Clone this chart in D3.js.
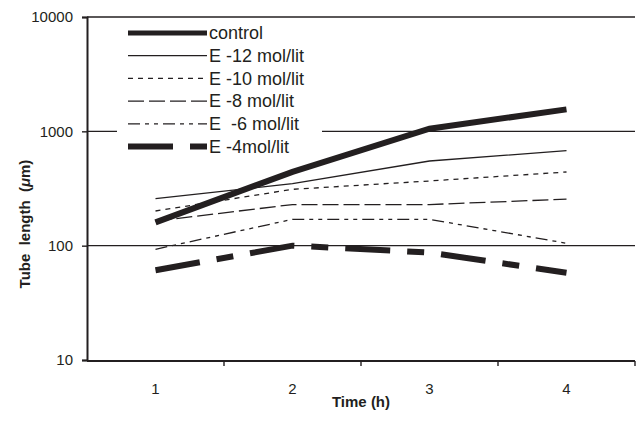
<!DOCTYPE html>
<meta charset="utf-8">
<style>
  body { margin: 0; background: #fff; }
  text { font-family: "Liberation Sans", Arial, sans-serif; fill: #231f20; }
  .tick text { font-size: 15px; }
  .label { font-size: 15px; font-weight: bold; }
  .legend text { font-size: 18px; white-space: pre; }
</style>
<svg width="640" height="421"></svg>
<script src="https://cdn.jsdelivr.net/npm/d3@7"></script>
<script>
var hours = [1, 2, 3, 4];
var yTicks = [10, 100, 1000, 10000];

var names = ["control", "E -12 mol/lit", "E -10 mol/lit", "E -8 mol/lit", "E  -6 mol/lit", "E -4mol/lit"];
var control = [160, 442, 1055, 1557];
var e12 = [258, 349, 550, 678];
var e10 = [201, 311, 368, 441];
var e8 = [164, 229, 229, 255];
var e6 = [93, 170, 170, 105];
var e4 = [61, 100, 87, 58];

var seriesValues = [control, e12, e10, e8, e6, e4];
var widths = [6, 1.3, 1.3, 1.3, 1.3, 6];
var dashes = [null, null, "5,5", "16,5", "12,5,4,5,4,5", "45,17,17,17"];
var ink = "#231f20";

var svg = d3.select("svg"),
    plotLeft = 87, plotRight = 635, plotTop = 17, plotBottom = 360;

var x = d3.scaleBand().domain(hours).range([plotLeft, plotRight]);
var y = d3.scaleLog().domain([10, 10000]).range([plotBottom, plotTop]);

// gridlines
svg.append("g").selectAll("line")
  .data(yTicks.slice(1))
  .enter().append("line")
    .attr("x1", plotLeft).attr("x2", plotRight)
    .attr("y1", function(d) { return y(d); })
    .attr("y2", function(d) { return y(d); })
    .attr("stroke", ink).attr("stroke-width", 1.4);

// y axis
var yAxis = svg.append("g")
  .attr("transform", "translate(" + plotLeft + ",0)")
  .call(d3.axisLeft(y).tickValues(yTicks).tickFormat(d3.format("d")).tickSize(5).tickPadding(9));
yAxis.select(".domain").attr("stroke", ink).attr("stroke-width", 2);
yAxis.selectAll(".tick line").attr("stroke", ink).attr("stroke-width", 1.4);

// x axis: labels at band centres, ticks at band edges
var xAxis = svg.append("g")
  .attr("transform", "translate(0," + (plotBottom + 1) + ")")
  .call(d3.axisBottom(x).tickSize(0).tickPadding(22));
xAxis.select(".domain").attr("d", "M" + plotLeft + ",0H" + plotRight).attr("stroke", ink).attr("stroke-width", 2);
xAxis.selectAll(".edge")
  .data(hours)
  .enter().append("line")
    .attr("x1", function(d) { return x(d) + x.bandwidth(); })
    .attr("x2", function(d) { return x(d) + x.bandwidth(); })
    .attr("y1", 0).attr("y2", 5)
    .attr("stroke", ink).attr("stroke-width", 1.4);

svg.append("text").attr("class", "label")
  .attr("x", (plotLeft + plotRight) / 2).attr("y", 407)
  .attr("text-anchor", "middle").text("Time (h)");

var yl = svg.append("text").attr("class", "label")
  .attr("transform", "translate(30,224) rotate(-90)")
  .attr("text-anchor", "middle")
  .style("white-space", "pre");
yl.append("tspan").text("Tube  length  (");
yl.append("tspan").attr("font-style", "italic").text("\u03bc");
yl.append("tspan").text("m)");

// lines
var line = d3.line()
  .x(function(d, i) { return x(hours[i]) + x.bandwidth() / 2; })
  .y(function(d) { return y(d); });

svg.append("g").selectAll("path")
  .data(seriesValues)
  .enter().append("path")
    .attr("d", line)
    .attr("fill", "none")
    .attr("stroke", ink)
    .attr("stroke-width", function(d, i) { return widths[i]; })
    .attr("stroke-dasharray", function(d, i) { return dashes[i]; });

// legend
var legend = svg.append("g").attr("class", "legend");
legend.append("rect")
  .attr("x", 117).attr("y", 22).attr("width", 205).attr("height", 130)
  .attr("fill", "#fff");

var item = legend.selectAll(".item")
  .data(names)
  .enter().append("g")
    .attr("transform", function(d, i) { return "translate(0," + (33 + i * 22.7) + ")"; });

item.append("line")
  .attr("x1", 128).attr("x2", 207)
  .attr("stroke", ink)
  .attr("stroke-width", function(d, i) { return i == 0 ? 5 : widths[i]; })
  .attr("stroke-dasharray", function(d, i) { return dashes[i]; });

item.append("text")
  .attr("x", 209).attr("dy", "0.35em")
  .text(function(d) { return d; });
</script>
